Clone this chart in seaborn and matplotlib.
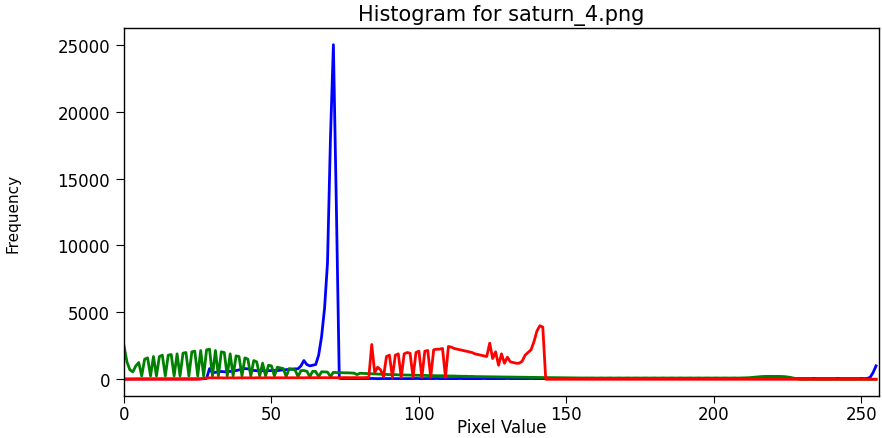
import numpy as np
import matplotlib
matplotlib.use("Agg")
import matplotlib.pyplot as plt
import seaborn as sns

pixel_values = list(range(256))

blue_hist = [
    20, 20, 25, 25, 30, 30, 30, 30, 30, 30, 30, 30, 30, 30, 30, 30, 30, 30, 30, 30,
    30, 30, 30, 30, 35, 35, 40, 40, 60, 800, 480, 520, 560, 580, 560, 570, 590, 600, 650, 700,
    760, 800, 780, 720, 660, 640, 650, 640, 620, 640, 650, 660, 640, 680, 700, 720, 740, 760, 780, 780,
    1000, 1400, 1100, 1000, 1050, 1100, 1800, 3200, 5300, 8700, 18000, 25000, 13000, 80, 50, 50, 55, 50, 50, 45,
    50, 55, 50, 50, 60, 50, 45, 50, 55, 50, 50, 60, 50, 50, 45, 50, 55, 50, 50, 60,
    50, 45, 50, 55, 50, 50, 60, 50, 50, 45, 50, 55, 50, 50, 60, 50, 50, 45, 50, 55,
    50, 50, 60, 50, 50, 45, 50, 55, 50, 50, 60, 50, 50, 45, 50, 55, 50, 50, 60, 50,
    50, 45, 50, 55, 50, 50, 60, 50, 50, 45, 50, 55, 50, 50, 60, 50, 50, 45, 50, 55,
    50, 50, 60, 50, 50, 45, 50, 55, 50, 50, 60, 50, 50, 45, 50, 55, 50, 50, 60, 50,
    50, 45, 50, 55, 50, 50, 60, 50, 50, 45, 50, 55, 50, 50, 60, 50, 50, 45, 50, 55,
    50, 50, 60, 50, 50, 45, 50, 55, 50, 50, 60, 50, 50, 45, 50, 55, 50, 50, 60, 50,
    50, 45, 50, 55, 50, 50, 60, 50, 50, 45, 50, 55, 50, 50, 60, 50, 50, 45, 50, 55,
    50, 50, 60, 50, 50, 45, 50, 55, 50, 50, 60, 50, 60, 150, 500, 1000,
]

green_hist = [
    2500, 1300, 700, 550, 1000, 1250, 250, 1500, 1600, 250, 1700, 250, 1700, 1800, 250, 1800, 1850, 250, 1900, 250,
    1950, 2000, 250, 2050, 2100, 250, 2150, 250, 2200, 2250, 250, 2150, 250, 2050, 2000, 250, 1900, 250, 1750, 1700,
    250, 1600, 1500, 250, 1400, 1300, 250, 1200, 250, 1050, 1000, 250, 900, 850, 800, 200, 800, 750, 700, 200,
    650, 650, 600, 200, 600, 580, 200, 560, 550, 540, 200, 520, 500, 500, 490, 480, 480, 470, 460, 350,
    450, 440, 430, 420, 410, 400, 385, 380, 365, 360, 350, 340, 345, 330, 325, 320, 310, 315, 300, 305,
    300, 290, 290, 280, 280, 270, 270, 260, 265, 250, 250, 240, 245, 230, 230, 220, 225, 210, 215, 200,
    200, 195, 190, 192, 185, 185, 180, 175, 178, 170, 170, 165, 160, 162, 155, 155, 150, 145, 148, 140,
    140, 135, 130, 132, 125, 125, 120, 118, 115, 112, 110, 105, 108, 100, 102, 100, 95, 100, 95, 100,
    90, 95, 100, 90, 95, 100, 90, 95, 100, 90, 95, 100, 90, 95, 100, 90, 95, 100, 90, 95,
    100, 90, 95, 100, 90, 95, 100, 90, 95, 100, 90, 95, 100, 90, 95, 100, 90, 95, 100, 90,
    95, 100, 90, 95, 100, 90, 95, 100, 90, 95, 100, 110, 120, 140, 160, 180, 200, 210, 220, 220,
    220, 220, 215, 210, 200, 170, 140, 90, 40, 0, 0, 0, 0, 0, 0, 0, 0, 0, 0, 0,
    0, 0, 0, 0, 0, 0, 0, 0, 0, 0, 0, 0, 0, 0, 0, 0,
]

red_hist = [
    0, 0, 0, 0, 0, 0, 0, 0, 0, 0, 0, 0, 0, 0, 0, 0, 0, 0, 0, 0,
    0, 0, 0, 0, 0, 0, 20, 60, 100, 110, 100, 110, 100, 110, 100, 100, 110, 100, 100, 110,
    100, 110, 105, 110, 100, 115, 110, 105, 110, 115, 110, 105, 115, 110, 110, 115, 110, 115, 110, 115,
    115, 110, 120, 115, 115, 120, 115, 120, 120, 115, 120, 120, 115, 120, 120, 125, 120, 120, 125, 120,
    120, 120, 130, 130, 2600, 500, 900, 700, 200, 1700, 1800, 150, 1800, 1900, 150, 1900, 2000, 1950, 150, 2000,
    2100, 150, 2100, 2150, 150, 2200, 2250, 2250, 2300, 150, 2450, 2400, 2300, 2250, 2200, 2150, 2100, 2050, 2000, 1900,
    1850, 1800, 1750, 1700, 2700, 1550, 2050, 1050, 1900, 1200, 1650, 1300, 1250, 1200, 1200, 1350, 1800, 2000, 2200, 2800,
    3600, 4000, 3900, 0, 0, 0, 0, 0, 0, 0, 0, 0, 0, 0, 0, 0, 0, 0, 0, 0,
    0, 0, 0, 0, 0, 0, 0, 0, 0, 0, 0, 0, 0, 0, 0, 0, 0, 0, 0, 0,
    0, 0, 0, 0, 0, 0, 0, 0, 0, 0, 0, 0, 0, 0, 0, 0, 0, 0, 0, 0,
    0, 0, 0, 0, 0, 0, 0, 0, 0, 0, 0, 0, 0, 0, 0, 0, 0, 0, 0, 0,
    0, 0, 0, 0, 0, 0, 0, 0, 0, 0, 0, 0, 0, 0, 0, 0, 0, 0, 0, 0,
    0, 0, 0, 0, 0, 0, 0, 0, 0, 0, 0, 0, 0, 0, 0, 0,
]

series = [("b", blue_hist), ("g", green_hist), ("r", red_hist)]

plt.rcParams["font.family"] = ["DejaVu Sans"]

fig = plt.figure(figsize=(8.82, 4.39), dpi=100)
ax = fig.add_axes([124 / 882, 1 - 397 / 439, 755 / 882, 368 / 439])

for col, vals in series:
    sns.lineplot(x=pixel_values, y=vals, color=col, linewidth=2.0, ax=ax)

ax.set_xlim(0, 256)
ax.set_ylim(-1250, 26250)
ax.set_xticks([0, 50, 100, 150, 200, 250])
ax.set_yticks([0, 5000, 10000, 15000, 20000, 25000])
ax.tick_params(axis="x", labelsize=12, length=5, pad=1.5)
ax.tick_params(axis="y", labelsize=12, length=6, pad=4)
ax.set_title("Histogram for saturn_4.png", fontsize=15, pad=6)
ax.set_xlabel("Pixel Value", fontsize=12, va="center")
ax.set_ylabel("Frequency", fontsize=11)
ax.xaxis.set_label_coords(0.5, -0.083)
ax.yaxis.set_label_coords(-0.137, 0.5)
for s in ax.spines.values():
    s.set_linewidth(1.0)

fig.savefig("out.png", dpi=100)
